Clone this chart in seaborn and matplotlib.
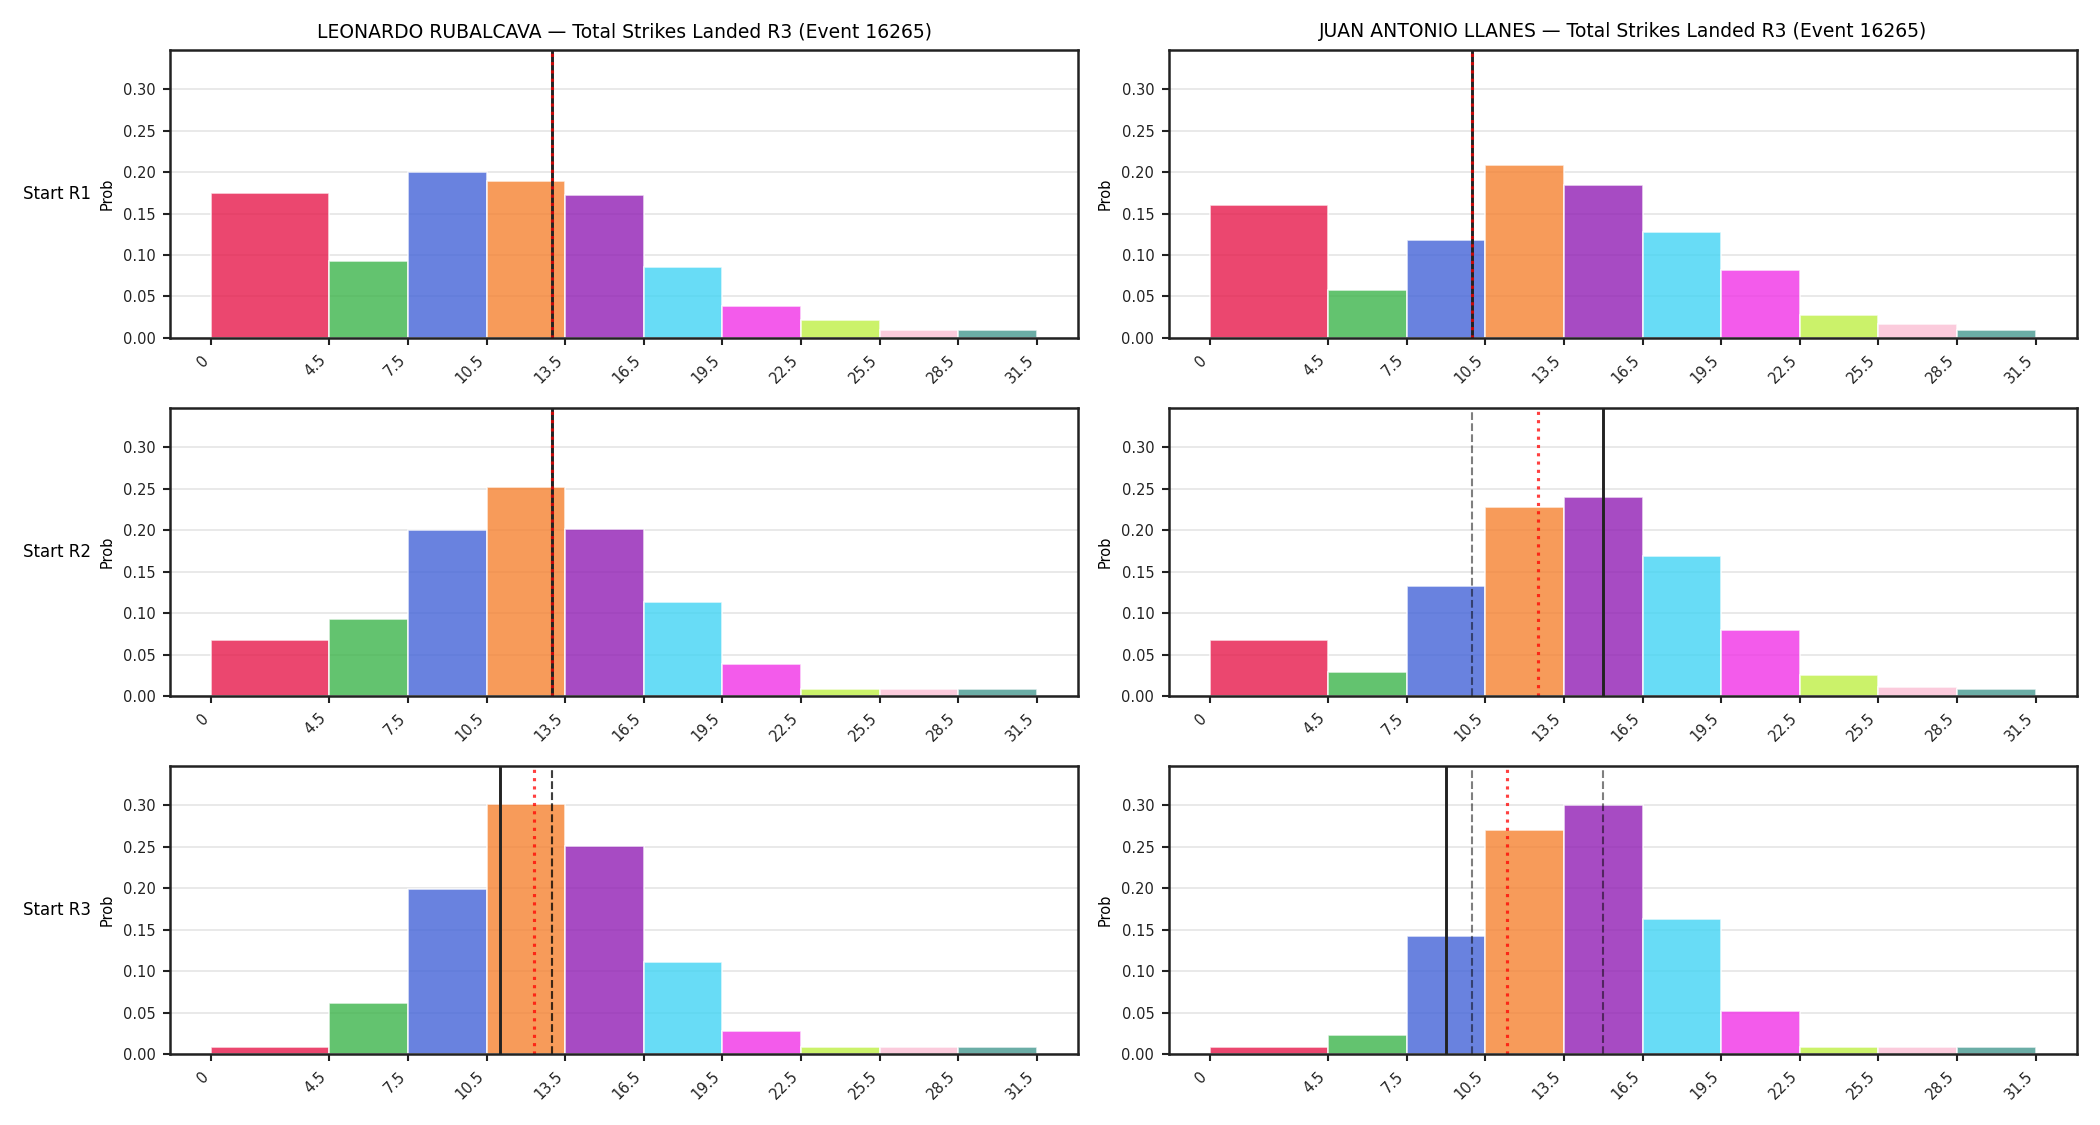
import numpy as np
import pandas as pd
import seaborn as sns
import matplotlib
matplotlib.use("Agg")
import matplotlib.pyplot as plt

# ---- data ----
edges = [0, 4.5, 7.5, 10.5, 13.5, 16.5, 19.5, 22.5, 25.5, 28.5, 31.5]
tick_labels = ["0", "4.5", "7.5", "10.5", "13.5", "16.5", "19.5", "22.5", "25.5", "28.5", "31.5"]
fighters = ["LEONARDO RUBALCAVA", "JUAN ANTONIO LLANES"]
row_labels = ["Start R1", "Start R2", "Start R3"]

rub_r1 = [0.175, 0.093, 0.200, 0.189, 0.172, 0.086, 0.039, 0.021, 0.009, 0.009]
rub_r2 = [0.067, 0.093, 0.200, 0.252, 0.201, 0.113, 0.039, 0.009, 0.009, 0.009]
rub_r3 = [0.008, 0.062, 0.199, 0.302, 0.251, 0.111, 0.028, 0.008, 0.008, 0.008]
lla_r1 = [0.160, 0.058, 0.118, 0.208, 0.184, 0.128, 0.082, 0.028, 0.017, 0.009]
lla_r2 = [0.067, 0.029, 0.133, 0.228, 0.240, 0.169, 0.080, 0.025, 0.011, 0.008]
lla_r3 = [0.008, 0.023, 0.142, 0.270, 0.300, 0.163, 0.052, 0.009, 0.008, 0.008]

# solid line (current start), running average (red dotted)
rub_marks = [13.0, 13.0, 11.0]
lla_marks = [10.0, 15.0, 9.0]
rub_avg = [13.0, 13.0, 12.33]
lla_avg = [10.0, 12.5, 11.33]

palette = ["#e6194b", "#3cb44b", "#4363d8", "#f58231", "#911eb4",
           "#42d4f4", "#f032e6", "#bfef45", "#fabed4", "#469990"]

probs = [[rub_r1, lla_r1], [rub_r2, lla_r2], [rub_r3, lla_r3]]
marks = [rub_marks, lla_marks]
avgs = [rub_avg, lla_avg]

# ---- style ----
sns.set_theme(style="ticks")
plt.rcParams["font.family"] = ["DejaVu Sans"]
plt.rcParams.update({
    "axes.edgecolor": "#222222",
    "axes.linewidth": 1.2,
    "xtick.labelsize": 7,
    "ytick.labelsize": 7,
    "xtick.major.size": 3.5,
    "ytick.major.size": 3.5,
    "xtick.major.width": 1.0,
    "ytick.major.width": 1.0,
    "text.color": "black",
    "xtick.color": "#222222",
    "ytick.color": "#222222",
    "axes.labelcolor": "black",
})

fig, axes = plt.subplots(3, 2, figsize=(14, 7.5), dpi=150)
mids = [(edges[i] + edges[i + 1]) / 2 for i in range(len(edges) - 1)]
ymax = max(max(max(p) for p in row) for row in probs) * 1.15

for r in range(3):
    for c in range(2):
        ax = axes[r, c]
        df = pd.DataFrame({"x": mids, "w": probs[r][c]})
        sns.histplot(data=df, x="x", weights="w", bins=edges, ax=ax,
                     alpha=0.8, edgecolor="white", linewidth=0.8)
        for patch, col in zip(ax.patches, palette):
            patch.set_facecolor(col)
            patch.set_alpha(0.8)
        ax.grid(axis="y", color="#e5e5e5", linewidth=0.8)
        ax.set_axisbelow(True)
        # previous starts (dashed)
        for k in range(r):
            ax.axvline(marks[c][k], color="black", alpha=0.5, linestyle="--", linewidth=1.0)
        ax.axvline(marks[c][r], color="#222222", linestyle="-", linewidth=1.4)
        ax.axvline(avgs[c][r], color="red", alpha=0.75, linestyle=":", linewidth=1.5)
        ax.set_ylim(0, ymax)
        ax.set_yticks([0, 0.05, 0.10, 0.15, 0.20, 0.25, 0.30])
        ax.set_yticklabels([f"{v:.2f}" for v in [0, 0.05, 0.10, 0.15, 0.20, 0.25, 0.30]])
        ax.set_xticks(edges)
        ax.set_xticklabels(tick_labels, rotation=45, ha="right")
        ax.set_xlabel("")
        ax.set_ylabel("Prob", fontsize=7)
        if r == 0:
            ax.set_title(f"{fighters[c]} — Total Strikes Landed R3 (Event 16265)", fontsize=9)
        if c == 0:
            ax.text(-0.087, 0.5, row_labels[r], transform=ax.transAxes,
                    ha="right", va="center", fontsize=8)

fig.subplots_adjust(left=0.081, right=0.989, top=0.9556, bottom=0.063,
                    wspace=0.100, hspace=0.244)
fig.savefig("out.png", dpi=150)
